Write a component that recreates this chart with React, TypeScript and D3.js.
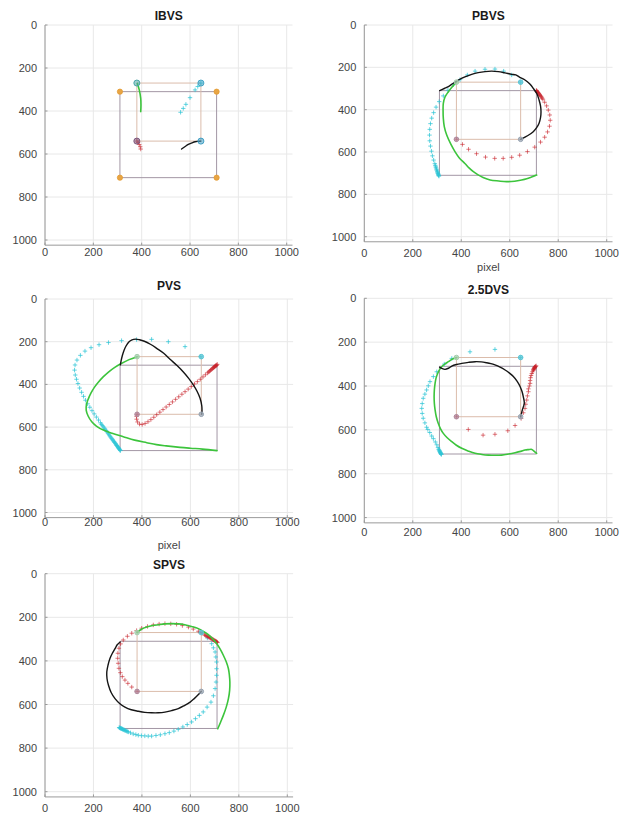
import React from "react";
import * as d3 from "d3";

type Pt = [number, number];

// Image-plane limits and ticks (pixels)
const AXIS_MAX = 1024;
const tickValues = [0, 200, 400, 600, 800, 1000];
const panelTitles = ["IBVS", "PBVS", "PVS", "2.5DVS", "SPVS"];
const xAxisLabel = "pixel";

// Desired and initial feature squares
const desiredSquare: Pt[] = [[380, 270], [645, 270], [645, 540], [380, 540]];
const initialSquare: Pt[] = [[310, 310], [710, 310], [710, 710], [310, 710]];

// IBVS feature trajectories
const ibvsGreen: Pt[] = [[396, 403], [397, 372], [396, 341], [390, 302], [382, 271]];
const ibvsCyan: Pt[] = [[561, 406], [572, 388], [583, 369], [600, 338], [621, 302], [632, 286], [645, 270]];
const ibvsBlack: Pt[] = [[565, 577], [580, 565], [593, 555], [608, 548], [621, 543], [645, 540]];
const ibvsRed: Pt[] = [[396, 577], [394, 566], [390, 556], [385, 547], [380, 540]];

// PBVS feature trajectories
const pbvsBlack: Pt[] = [[311, 310], [330, 300], [347, 291], [367, 275], [388, 260], [415, 245], [443, 233], [470, 225], [498, 220], [525, 218], [553, 220], [580, 226], [608, 233], [625, 236], [640, 246], [663, 260], [682, 278], [697, 299], [712, 325], [721, 354], [727, 382], [729, 410], [727, 438], [721, 464], [711, 485], [697, 504], [675, 522], [645, 540]];
const pbvsRed: Pt[] = [[710, 309], [711, 311], [712, 313], [713, 315], [715, 317], [716, 319], [718, 321], [720, 324], [722, 327], [724, 330], [726, 333], [729, 337], [731, 341], [734, 346], [737, 351], [744, 365], [752, 382], [759, 402], [765, 425], [767, 450], [764, 478], [756, 505], [744, 530], [727, 553], [703, 577], [673, 598], [641, 615], [608, 625], [573, 630], [538, 630], [500, 624], [463, 608], [430, 587], [405, 564], [380, 540]];
const pbvsCyan: Pt[] = [[308, 714], [307, 711], [306, 708], [305, 705], [304, 702], [303, 699], [302, 695], [301, 691], [299, 686], [298, 681], [296, 675], [295, 670], [293, 663], [291, 655], [286, 638], [281, 618], [277, 596], [273, 572], [270, 547], [269, 520], [270, 493], [273, 466], [278, 440], [286, 414], [296, 388], [309, 362], [326, 335], [345, 308], [368, 282], [395, 258], [425, 236], [457, 218], [498, 209], [539, 208], [575, 218], [608, 236], [645, 270]];
const pbvsGreen: Pt[] = [[711, 709], [690, 718], [670, 726], [649, 732], [620, 738], [587, 740], [555, 737], [519, 732], [490, 720], [468, 707], [450, 693], [432, 675], [415, 654], [392, 628], [374, 598], [357, 563], [340, 520], [330, 480], [326, 441], [325, 405], [326, 370], [333, 340], [347, 315], [362, 293], [380, 270]];

// PVS feature trajectories
const pvsBlack: Pt[] = [[311, 308], [314, 290], [319, 266], [326, 241], [335, 219], [346, 201], [359, 191], [374, 188], [390, 191], [410, 198], [435, 212], [461, 231], [490, 254], [516, 282], [545, 312], [571, 342], [593, 372], [612, 402], [628, 433], [640, 465], [647, 500], [648, 520], [647, 540]];
const pvsRed: Pt[] = [[711, 306], [709, 309], [707, 311], [705, 312], [703, 314], [701, 316], [699, 318], [697, 320], [695, 322], [692, 325], [689, 328], [686, 331], [683, 334], [679, 338], [675, 342], [671, 346], [662, 355], [652, 365], [641, 376], [629, 387], [617, 398], [604, 410], [591, 422], [578, 434], [565, 446], [552, 458], [539, 470], [526, 482], [513, 494], [500, 506], [487, 518], [474, 530], [461, 542], [449, 554], [437, 565], [425, 575], [413, 583], [401, 588], [390, 586], [382, 576], [378, 563], [378, 550], [380, 540]];
const pvsCyan: Pt[] = [[311, 710], [310, 708], [308, 705], [307, 703], [305, 700], [304, 698], [302, 695], [300, 692], [298, 689], [296, 686], [294, 683], [292, 679], [290, 676], [287, 672], [285, 668], [282, 664], [280, 660], [277, 656], [274, 652], [271, 647], [268, 642], [265, 637], [262, 632], [259, 627], [255, 621], [252, 616], [248, 610], [245, 605], [241, 599], [237, 593], [233, 587], [229, 580], [221, 567], [212, 553], [203, 538], [194, 523], [185, 507], [176, 491], [167, 474], [159, 456], [151, 437], [143, 417], [136, 396], [130, 376], [125, 356], [122, 333], [124, 309], [132, 286], [146, 264], [165, 244], [190, 228], [223, 214], [262, 204], [316, 195], [378, 190], [440, 189], [509, 200], [578, 223], [643, 270]];
const pvsGreen: Pt[] = [[710, 710], [650, 703], [600, 699], [557, 695], [500, 688], [460, 682], [420, 673], [370, 661], [323, 645], [280, 630], [241, 614], [212, 595], [193, 575], [178, 548], [170, 520], [171, 495], [178, 470], [190, 440], [203, 415], [220, 390], [240, 365], [262, 342], [288, 320], [315, 302], [347, 284], [380, 270]];

// 2.5DVS feature trajectories
const dvsBlack: Pt[] = [[311, 314], [322, 321], [333, 324], [347, 319], [361, 309], [380, 302], [402, 297], [430, 292], [457, 289], [482, 290], [505, 294], [522, 298], [539, 304], [560, 314], [581, 327], [599, 341], [615, 357], [630, 378], [643, 403], [651, 426], [656, 449], [660, 479], [652, 509], [645, 540]];
const dvsRed: Pt[] = [[709, 308], [707, 310], [705, 312], [704, 314], [703, 315], [702, 317], [701, 319], [700, 321], [699, 323], [698, 326], [697, 328], [694, 335], [691, 343], [688, 352], [686, 362], [684, 375], [684, 388], [681, 400], [677, 413], [677, 426], [673, 445], [670, 464], [666, 483], [663, 502], [656, 522], [647, 548], [622, 580], [592, 604], [539, 620], [490, 624], [429, 598], [380, 540]];
const dvsCyan: Pt[] = [[318, 712], [317, 710], [316, 708], [315, 706], [314, 704], [313, 702], [312, 700], [311, 697], [310, 695], [308, 691], [307, 688], [304, 680], [299, 668], [293, 655], [285, 640], [278, 628], [270, 612], [262, 598], [257, 588], [250, 568], [243, 547], [239, 525], [237, 502], [239, 480], [243, 456], [250, 437], [257, 418], [264, 399], [271, 380], [285, 357], [299, 335], [330, 300], [361, 274], [436, 244], [539, 233], [645, 270]];
const dvsGreen: Pt[] = [[711, 707], [700, 697], [691, 689], [677, 690], [663, 692], [645, 698], [622, 704], [595, 710], [567, 715], [540, 716], [512, 715], [485, 712], [457, 707], [430, 697], [402, 684], [380, 670], [361, 654], [342, 636], [326, 616], [314, 594], [305, 570], [297, 540], [292, 509], [289, 479], [288, 449], [289, 418], [292, 388], [296, 364], [303, 342], [310, 326], [319, 312], [333, 299], [347, 289], [362, 278], [380, 270]];

// SPVS feature trajectories
const spvsBlack: Pt[] = [[310, 313], [298, 326], [289, 344], [278, 365], [268, 389], [260, 420], [255, 451], [256, 482], [262, 512], [273, 545], [289, 573], [308, 595], [330, 612], [356, 624], [385, 631], [412, 636], [440, 638], [467, 638], [495, 635], [522, 628], [550, 619], [575, 605], [599, 589], [616, 573], [630, 558], [645, 540]];
const spvsRed: Pt[] = [[712, 316], [710, 314], [708, 312], [706, 311], [704, 310], [702, 308], [700, 307], [697, 305], [695, 303], [692, 301], [689, 299], [686, 297], [683, 295], [680, 293], [677, 292], [674, 290], [670, 288], [666, 285], [662, 283], [658, 280], [649, 273], [640, 268], [633, 264], [612, 254], [592, 245], [567, 238], [543, 232], [519, 230], [495, 229], [471, 231], [447, 235], [423, 242], [399, 250], [378, 261], [358, 273], [340, 287], [323, 304], [312, 322], [305, 342], [301, 365], [300, 388], [302, 411], [305, 434], [311, 454], [319, 472], [330, 488], [342, 503], [358, 520], [380, 540]];
const spvsCyan: Pt[] = [[306, 706], [308, 707], [310, 708], [312, 709], [314, 710], [316, 711], [318, 712], [320, 713], [322, 714], [325, 716], [327, 717], [330, 719], [333, 720], [337, 722], [340, 724], [344, 726], [353, 730], [364, 735], [375, 738], [385, 741], [398, 743], [412, 744], [426, 745], [440, 745], [458, 742], [476, 739], [495, 734], [513, 729], [532, 722], [550, 714], [569, 703], [587, 692], [605, 680], [621, 665], [637, 650], [653, 634], [669, 612], [685, 589], [695, 560], [702, 527], [706, 497], [708, 466], [708, 436], [708, 405], [705, 382], [702, 359], [695, 340], [688, 321], [670, 295], [645, 270]];
const spvsGreen: Pt[] = [[713, 711], [725, 680], [736, 650], [748, 612], [757, 573], [762, 535], [763, 497], [761, 466], [757, 436], [748, 404], [736, 374], [723, 346], [709, 321], [692, 299], [674, 280], [654, 265], [633, 252], [605, 242], [577, 234], [550, 230], [523, 229], [495, 230], [468, 234], [444, 238], [420, 245], [398, 255], [380, 270]];

type Series = { green: Pt[]; black: Pt[]; red: Pt[]; cyan: Pt[] };
const seriesByPanel: Series[] = [
  { green: ibvsGreen, black: ibvsBlack, red: ibvsRed, cyan: ibvsCyan },
  { green: pbvsGreen, black: pbvsBlack, red: pbvsRed, cyan: pbvsCyan },
  { green: pvsGreen, black: pvsBlack, red: pvsRed, cyan: pvsCyan },
  { green: dvsGreen, black: dvsBlack, red: dvsRed, cyan: dvsCyan },
  { green: spvsGreen, black: spvsBlack, red: spvsRed, cyan: spvsCyan },
];

// Subplot placement on the page
const layouts = [
  { x0: 45, kx: 0.2417, y0: 25, ky: 0.215, titleY: 16, tickY: 251.5, xlabelY: 0 },
  { x0: 364.3, kx: 0.2424, y0: 25, ky: 0.2117, titleY: 16, tickY: 253, xlabelY: 267 },
  { x0: 45, kx: 0.2423, y0: 299, ky: 0.2135, titleY: 286, tickY: 522, xlabelY: 545 },
  { x0: 364.3, kx: 0.2424, y0: 298.3, ky: 0.2193, titleY: 290, tickY: 531.5, xlabelY: 0 },
  { x0: 45, kx: 0.2423, y0: 573.7, ky: 0.218, titleY: 564.5, tickY: 808, xlabelY: 0 },
];

const FONT = "'Liberation Sans', Arial, Helvetica, sans-serif";
const GREEN = "#3cc43c";
const BLACK = "#151515";
const RED = "#c8222a";
const CYAN = "#2fc6d6";
const AXIS = "#9a9a9a";
const LABEL = "#444444";

function plusPath(cx: number, cy: number, s: number) {
  return `M${cx - s},${cy}H${cx + s}M${cx},${cy - s}V${cy + s}`;
}

function Panel({ idx }: { idx: number }) {
  const L = layouts[idx];
  const s = seriesByPanel[idx];
  const isIbvs = idx === 0;
  const x = d3.scaleLinear().domain([0, AXIS_MAX]).range([L.x0, L.x0 + AXIS_MAX * L.kx]);
  const y = d3.scaleLinear().domain([0, AXIS_MAX]).range([L.y0, L.y0 + AXIS_MAX * L.ky]);
  const line = d3
    .line<Pt>()
    .x((d) => x(d[0]))
    .y((d) => y(d[1]))
    .curve(d3.curveCatmullRom.alpha(0.5));
  const closed = d3
    .line<Pt>()
    .x((d) => x(d[0]))
    .y((d) => y(d[1]))
    .curve(d3.curveLinearClosed);
  const [xl, xr] = x.range();
  const [yt, yb] = y.range();
  const cx = (xl + xr) / 2;

  const cornerColors = isIbvs
    ? ["#4aa6a8", "#3fa4c6", "#3f9ec4", "#7c557a"]
    : ["#a6cdae", "#5cc6d6", "#98a4b2", "#b08a9e"];

  return (
    <g>
      {/* grid */}
      {tickValues.map((t) => (
        <line key={"gx" + t} x1={x(t)} x2={x(t)} y1={yt} y2={yb} stroke="#e8e8e8" strokeWidth={1} />
      ))}
      {tickValues.map((t) => (
        <line key={"gy" + t} x1={xl} x2={xr} y1={y(t)} y2={y(t)} stroke="#e8e8e8" strokeWidth={1} />
      ))}

      {/* feature squares */}
      <path d={closed(initialSquare) || ""} fill="none" stroke="#a397a5" strokeWidth={1} />
      <path d={closed(desiredSquare) || ""} fill="none" stroke="#dbbcab" strokeWidth={1} />

      {/* marker trajectories */}
      {s.cyan.map((p, i) => (
        <path key={"c" + i} d={plusPath(x(p[0]), y(p[1]), 2.2)} stroke={CYAN} strokeOpacity={0.75} strokeWidth={1} fill="none" />
      ))}
      {s.red.map((p, i) => (
        <path key={"r" + i} d={plusPath(x(p[0]), y(p[1]), 2.2)} stroke={RED} strokeOpacity={0.6} strokeWidth={1} fill="none" />
      ))}

      {/* line trajectories */}
      <path d={line(s.green) || ""} fill="none" stroke={GREEN} strokeWidth={1.6} strokeLinejoin="round" strokeLinecap="round" />
      <path d={line(s.black) || ""} fill="none" stroke={BLACK} strokeWidth={1.4} strokeLinejoin="round" strokeLinecap="round" />

      {/* desired corner points */}
      {desiredSquare.map((p, i) => (
        <circle
          key={"d" + i}
          cx={x(p[0])}
          cy={y(p[1])}
          r={isIbvs ? 3 : 2.3}
          fill={cornerColors[i]}
          fillOpacity={isIbvs ? 0.55 : 0.75}
          stroke={cornerColors[i]}
          strokeWidth={1}
        />
      ))}
      {isIbvs &&
        initialSquare.map((p, i) => (
          <circle key={"o" + i} cx={x(p[0])} cy={y(p[1])} r={2.6} fill="#e8a544" stroke="#e39a32" strokeWidth={0.8} />
        ))}

      {/* axes */}
      <line x1={xl} x2={xl} y1={yt} y2={yb} stroke={AXIS} strokeWidth={1} />
      <line x1={xl} x2={xr} y1={yb} y2={yb} stroke={AXIS} strokeWidth={1} />
      {tickValues.map((t) => (
        <g key={"t" + t}>
          <line x1={x(t)} x2={x(t)} y1={yb} y2={yb - 2.5} stroke={AXIS} />
          <line x1={xl} x2={xl + 2.5} y1={y(t)} y2={y(t)} stroke={AXIS} />
          <text x={x(t)} y={L.tickY} textAnchor="middle" dominantBaseline="central" fontSize={11} fill={LABEL} fontFamily={FONT}>
            {t}
          </text>
          <text x={xl - 8} y={y(t)} textAnchor="end" dominantBaseline="central" fontSize={11} fill={LABEL} fontFamily={FONT}>
            {t}
          </text>
        </g>
      ))}
      <text x={cx} y={L.titleY} textAnchor="middle" dominantBaseline="central" fontSize={12} fontWeight="bold" fill="#1a1a1a" fontFamily={FONT}>
        {panelTitles[idx]}
      </text>
      {L.xlabelY > 0 && (
        <text x={cx} y={L.xlabelY} textAnchor="middle" dominantBaseline="central" fontSize={11} fill={LABEL} fontFamily={FONT}>
          {xAxisLabel}
        </text>
      )}
    </g>
  );
}

export default function App() {
  return (
    <svg
      width={626}
      height={828}
      viewBox="0 0 626 828"
      style={{ position: "absolute", left: 0, top: 0, background: "#ffffff" }}
    >
      <rect x={0} y={0} width={626} height={828} fill="#ffffff" />
      {layouts.map((_, i) => (
        <Panel key={i} idx={i} />
      ))}
    </svg>
  );
}
